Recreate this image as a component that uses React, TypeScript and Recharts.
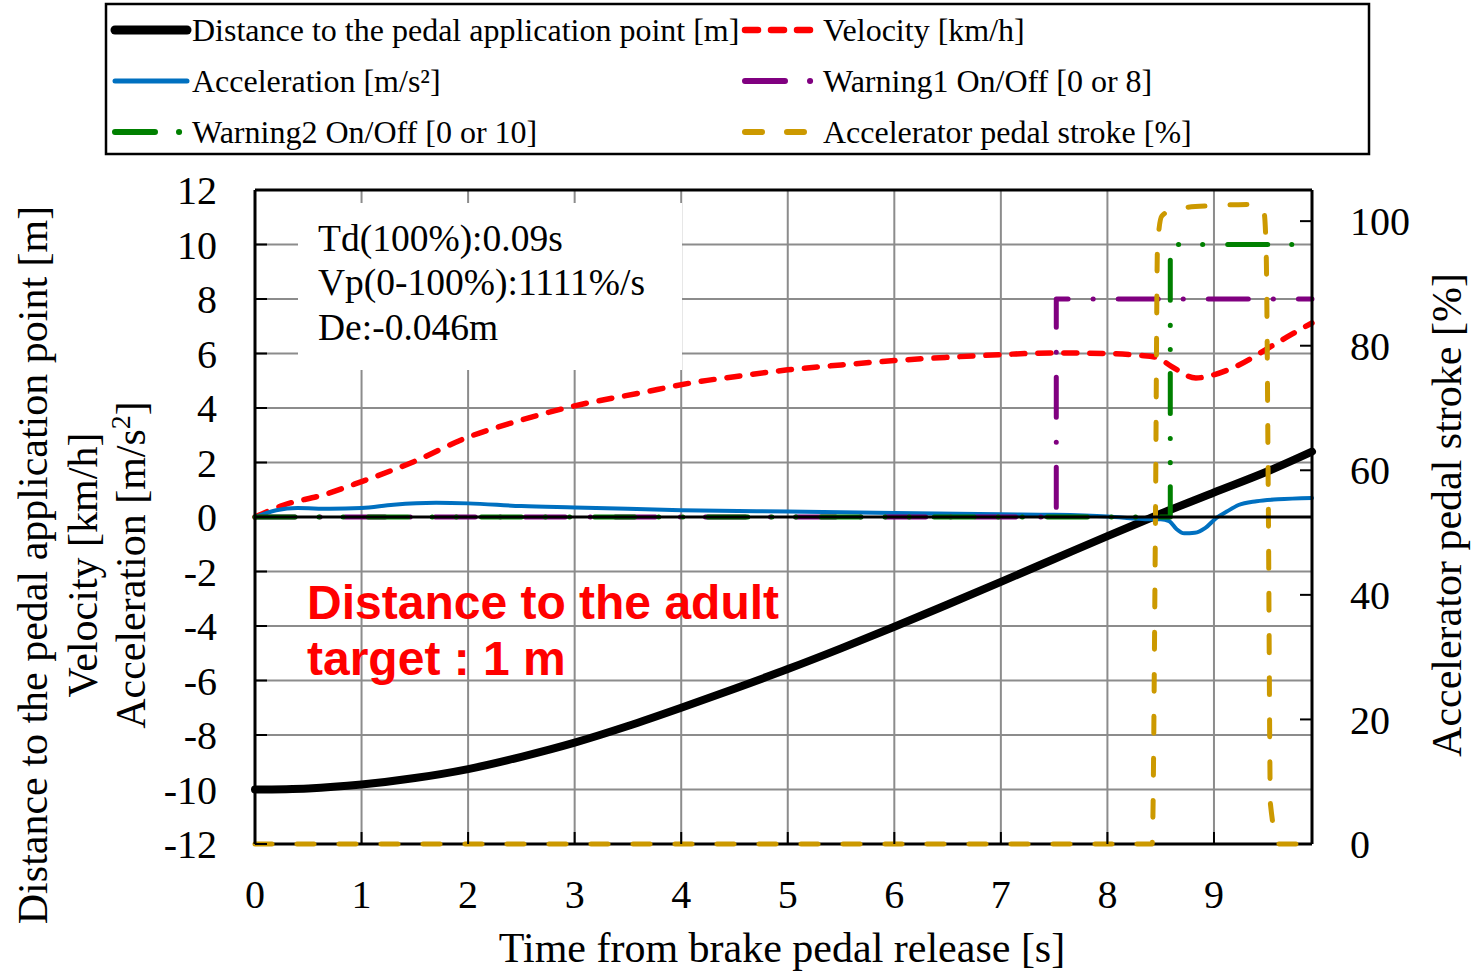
import { ComposedChart, Line, XAxis, YAxis, CartesianGrid, ReferenceLine } from 'recharts'

const SERIF = '"Liberation Serif", "Times New Roman", serif'
const SANS = '"Liberation Sans", Arial, sans-serif'

const W = 1471
const H = 972

// axes
const X_TICKS = [0, 1, 2, 3, 4, 5, 6, 7, 8, 9]
const LEFT_TICKS = [-12, -10, -8, -6, -4, -2, 0, 2, 4, 6, 8, 10, 12]
const RIGHT_TICKS = [0, 20, 40, 60, 80, 100]

// distance to the pedal application point [m]
const distTime = [0, 0.5, 1, 1.5, 2, 2.5, 3, 3.5, 4, 4.5, 5, 5.5, 6, 6.5, 7, 7.5, 8, 8.5, 9, 9.5, 9.92]
const distVal = [-10, -9.96, -9.82, -9.58, -9.25, -8.8, -8.28, -7.67, -7.0, -6.3, -5.58, -4.82, -4.03, -3.21, -2.38, -1.54, -0.7, 0.12, 0.9, 1.67, 2.4]

// velocity [km/h]
const velTime = [0, 0.27, 0.64, 1, 1.49, 1.98, 2.51, 2.98, 3.61, 4.17, 4.5, 5, 5.5, 6, 6.5, 7, 7.5, 8, 8.3, 8.46, 8.6, 8.83, 8.98, 9.23, 9.51, 9.74, 9.92]
const velVal = [0, 0.44, 0.81, 1.3, 2.03, 2.9, 3.57, 4.06, 4.55, 4.97, 5.15, 5.4, 5.58, 5.74, 5.86, 5.96, 6.02, 6.0, 5.93, 5.86, 5.53, 5.1, 5.2, 5.57, 6.2, 6.73, 7.12]

// acceleration [m/s2]
const accTime = [0, 0.2, 0.4, 0.7, 1.0, 1.3, 1.7, 2.0, 2.5, 3.0, 3.5, 4.0, 5.0, 6.0, 7.0, 7.5, 8.0, 8.4, 8.5, 8.58, 8.65, 8.72, 8.82, 8.92, 9.02, 9.12, 9.23, 9.4, 9.6, 9.92]
const accVal = [0, 0.25, 0.33, 0.3, 0.33, 0.45, 0.52, 0.5, 0.4, 0.35, 0.3, 0.25, 0.2, 0.15, 0.1, 0.08, 0.02, -0.08, -0.08, -0.15, -0.45, -0.6, -0.58, -0.4, -0.04, 0.2, 0.44, 0.58, 0.65, 0.7]

// warning 1 on/off [0 or 8]
const warn1Time = [0, 7.52, 7.52, 9.92]
const warn1Val = [0, 0, 8, 8]

// warning 2 on/off [0 or 10]
const warn2Time = [0, 8.59, 8.59, 9.92]
const warn2Val = [0, 0, 10, 10]

// accelerator pedal stroke [%] (right axis)
const pedalTime = [0, 8.42, 8.45, 8.47, 8.51, 8.64, 9.0, 9.42, 9.47, 9.49, 9.51, 9.53, 9.61, 9.92]
const pedalVal = [0, 0, 50, 96, 100.8, 102, 102.5, 102.7, 101.4, 95, 55, 6.4, 0, 0]

const zip = (t: number[], v: number[]) => t.map((x, i) => ({ t: x, v: v[i] }))

const SERIES = [
  { key: 'dist', name: 'Distance to the pedal application point [m]', data: zip(distTime, distVal), color: '#000000', width: 8, dash: undefined, axis: 'left', type: 'monotone' },
  { key: 'vel', name: 'Velocity [km/h]', data: zip(velTime, velVal), color: '#FF0000', width: 5.5, dash: '13 13', axis: 'left', type: 'monotone' },
  { key: 'acc', name: 'Acceleration [m/s²]', data: zip(accTime, accVal), color: '#0070C0', width: 4, dash: undefined, axis: 'left', type: 'monotone' },
  { key: 'w1', name: 'Warning1 On/Off [0 or 8]', data: zip(warn1Time, warn1Val), color: '#800080', width: 5, dash: '40 25 0.1 25', axis: 'left', type: 'linear' },
  { key: 'w2', name: 'Warning2 On/Off [0 or 10]', data: zip(warn2Time, warn2Val), color: '#008000', width: 5, dash: '40 24 0.1 24 0.1 25', axis: 'left', type: 'linear' },
  { key: 'pedal', name: 'Accelerator pedal stroke [%]', data: zip(pedalTime, pedalVal), color: '#CC9900', width: 5, dash: '17 25', axis: 'right', type: 'monotone' }
]

const tickStyle = { fontSize: 40, fill: '#000', fontFamily: SERIF }

function Overlay() {
  const legendRows = [30, 81, 132]
  const sampleX = [[115, 187], [745, 812]]
  const textX = [192, 823]
  return (
    <svg width={W} height={H} style={{ position: 'absolute', left: 0, top: 0, pointerEvents: 'none' }}>
      {/* top frame line */}
      <line x1={255} x2={1312} y1={190} y2={190} stroke="#000" strokeWidth={3} />

      {/* stats box */}
      <rect x={298} y={203} width={384} height={167} fill="#fff" />
      <g fontFamily={SERIF} fontSize={37.5} fill="#000">
        <text x={318} y={251}>Td(100%):0.09s</text>
        <text x={318} y={295}>Vp(0-100%):1111%/s</text>
        <text x={318} y={340}>De:-0.046m</text>
      </g>

      <g fontFamily={SANS} fontSize={48} fontWeight="bold" fill="#FF0000">
        <text x={307} y={619}>Distance to the adult</text>
        <text x={307} y={675}>target : 1 m</text>
      </g>

      {/* axis titles */}
      <g fontFamily={SERIF} fontSize={42} fill="#000" textAnchor="middle">
        <text x={47} y={565} transform="rotate(-90 47 565)">Distance to the pedal application point [m]</text>
        <text x={97} y={565} transform="rotate(-90 97 565)">Velocity [km/h]</text>
        <text x={145} y={565} transform="rotate(-90 145 565)">
          Acceleration [m/s<tspan dy={-15} fontSize={28}>2</tspan><tspan dy={15}>]</tspan>
        </text>
        <text x={1461} y={515} transform="rotate(-90 1461 515)">Accelerator pedal stroke [%]</text>
        <text x={782} y={962}>Time from brake pedal release [s]</text>
      </g>

      {/* legend */}
      <rect x={106} y={4} width={1263} height={150} fill="#fff" stroke="#000" strokeWidth={2.5} />
      {SERIES.map((s, i) => {
        const row = Math.floor(i / 2)
        const col = i % 2
        const y = legendRows[row]
        return (
          <g key={s.key}>
            <line
              x1={sampleX[col][0]}
              x2={sampleX[col][1]}
              y1={y}
              y2={y}
              stroke={s.color}
              strokeWidth={s.width + 1}
              strokeDasharray={s.dash}
              strokeLinecap="round"
            />
            <text x={textX[col]} y={y + 11} fontFamily={SERIF} fontSize={32} fill="#000">
              {s.name}
            </text>
          </g>
        )
      })}
    </svg>
  )
}

export default function App() {
  return (
    <div style={{ position: 'absolute', left: 0, top: 0, width: W, height: H, background: '#fff' }}>
      <ComposedChart width={W} height={H} margin={{ top: 190, right: 59, bottom: 68, left: 195 }}>
        <CartesianGrid yAxisId="left" stroke="#8c8c8c" strokeWidth={2} />
        <XAxis
          type="number"
          dataKey="t"
          domain={[0, 9.92]}
          ticks={X_TICKS}
          interval={0}
          height={60}
          tickSize={-12}
          tickMargin={48}
          tick={tickStyle}
          axisLine={false}
          tickLine={{ stroke: '#000', strokeWidth: 2 }}
        />
        <YAxis
          yAxisId="left"
          domain={[-12, 12]}
          ticks={LEFT_TICKS}
          interval={0}
          width={60}
          tickSize={-12}
          tickMargin={50}
          tick={tickStyle}
          axisLine={{ stroke: '#000', strokeWidth: 3 }}
          tickLine={{ stroke: '#000', strokeWidth: 2 }}
        />
        <YAxis
          yAxisId="right"
          orientation="right"
          domain={[0, 105]}
          ticks={RIGHT_TICKS}
          interval={0}
          width={100}
          tickSize={-12}
          tickMargin={50}
          tick={tickStyle}
          axisLine={{ stroke: '#000', strokeWidth: 3 }}
          tickLine={{ stroke: '#000', strokeWidth: 2 }}
        />
        {/* bottom frame below the series so the pedal dashes at 0 stay visible */}
        <ReferenceLine yAxisId="left" y={-12} stroke="#000" strokeWidth={3} />
        {SERIES.map((s) => (
          <Line
            key={s.key}
            yAxisId={s.axis}
            data={s.data}
            dataKey="v"
            name={s.name}
            type={s.type as any}
            stroke={s.color}
            strokeWidth={s.width}
            strokeDasharray={s.dash}
            strokeLinecap="round"
            strokeLinejoin="round"
            dot={false}
            activeDot={false}
            isAnimationActive={false}
          />
        ))}
        <ReferenceLine yAxisId="left" y={0} stroke="#000" strokeWidth={3} zIndex={450} />
      </ComposedChart>
      <Overlay />
    </div>
  )
}
